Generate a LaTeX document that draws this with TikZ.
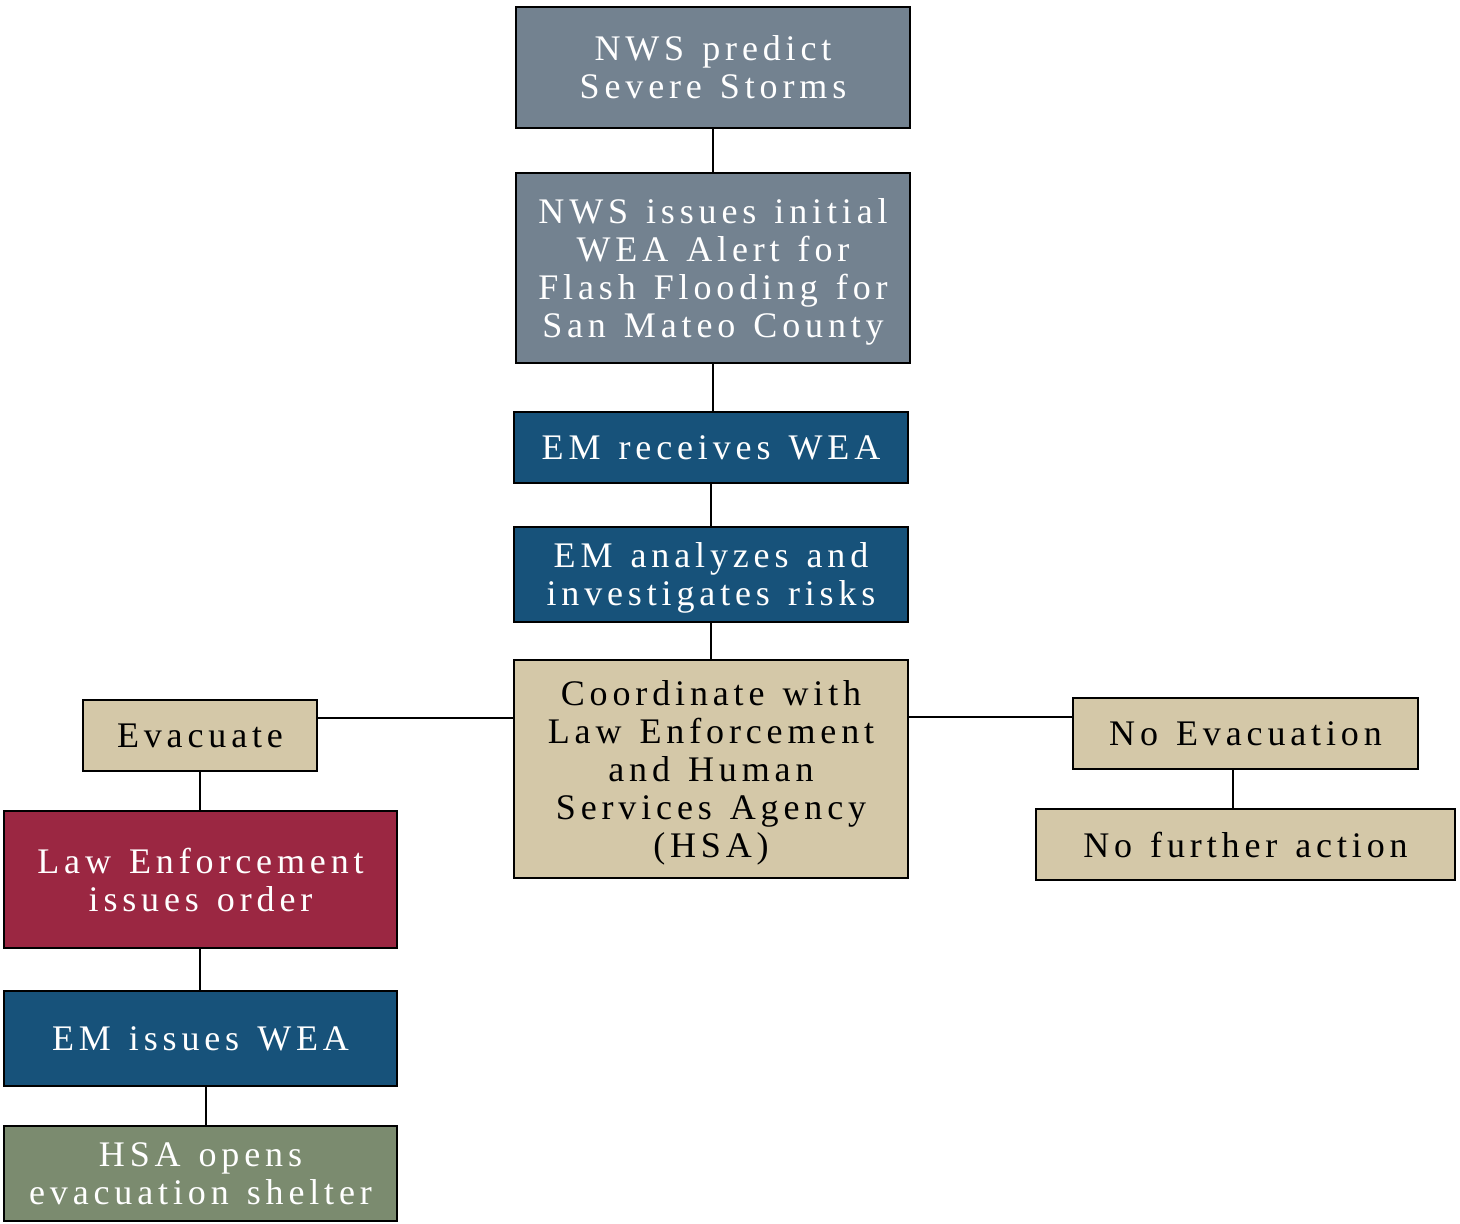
\documentclass[tikz,border=0pt]{standalone}
\usepackage{fontspec}
\setmainfont{Liberation Serif}[LetterSpace=13.5,WordSpace=1.3]
\definecolor{slate}{HTML}{738290}
\definecolor{emblue}{HTML}{17527A}
\definecolor{maroon}{HTML}{9B2742}
\definecolor{tan}{HTML}{D4C8A8}
\definecolor{sage}{HTML}{7B8B6F}
\begin{document}
\begin{tikzpicture}[x=0.5pt,y=-0.5pt,
  box/.style={draw=black,line width=0.9pt,rectangle,inner sep=0pt,align=center,
    font=\fontsize{18}{19}\selectfont,text depth=0pt},
  wbox/.style={box,text=white},
  conn/.style={draw=black,line width=0.8pt}]
\useasboundingbox (0,0) rectangle (1460,1224);
\fill[white] (0,0) rectangle (1460,1224);
\node[wbox,fill=slate,minimum width=197pt,minimum height=60.5pt] (n1) at (713,67.5) {NWS predict\\Severe Storms};
\node[wbox,fill=slate,minimum width=197pt,minimum height=95pt] (n2) at (713,268) {NWS issues initial\\WEA Alert for\\Flash Flooding for\\San Mateo County};
\node[wbox,fill=emblue,minimum width=197pt,minimum height=35.5pt] (n3) at (711,447.5) {EM receives WEA};
\node[wbox,fill=emblue,minimum width=197pt,minimum height=47.5pt] (n4) at (711,574.5) {EM analyzes and\\investigates risks};
\node[box,fill=tan,minimum width=197pt,minimum height=109pt] (n5) at (711,769) {Coordinate with\\Law Enforcement\\and Human\\Services Agency\\(HSA)};
\node[box,fill=tan,minimum width=117pt,minimum height=35.5pt] (ev) at (200,735.5) {Evacuate};
\node[box,fill=tan,minimum width=172.5pt,minimum height=35.5pt] (ne) at (1245.5,733.5) {No Evacuation};
\node[box,fill=tan,minimum width=209.5pt,minimum height=35.5pt] (nf) at (1245.5,844.5) {No further action};
\node[wbox,fill=maroon,minimum width=196.5pt,minimum height=68.5pt] (le) at (200.5,879.5) {Law Enforcement\\issues order};
\node[wbox,fill=emblue,minimum width=196.5pt,minimum height=47.5pt] (ew) at (200.5,1038.5) {EM issues WEA};
\node[wbox,fill=sage,minimum width=196.5pt,minimum height=47.5pt] (hs) at (200.5,1173.5) {HSA opens\\evacuation shelter};
\draw[conn] (n1.south) -- (n2.north);
\draw[conn] (n2.south) -- (n3.north -| n2.south);
\draw[conn] (n3.south) -- (n4.north);
\draw[conn] (n4.south) -- (n5.north);
\draw[conn] (ev.east |- 0,718) -- (n5.west |- 0,718);
\draw[conn] (n5.east |- 0,717) -- (ne.west |- 0,717);
\draw[conn] (ev.south) -- (le.north -| ev.south);
\draw[conn] (le.south -| ev.south) -- (ew.north -| ev.south);
\draw[conn] (ew.south -| 206,0) -- (hs.north -| 206,0);
\draw[conn] (ne.south -| 1233,0) -- (nf.north -| 1233,0);
\end{tikzpicture}
\end{document}
